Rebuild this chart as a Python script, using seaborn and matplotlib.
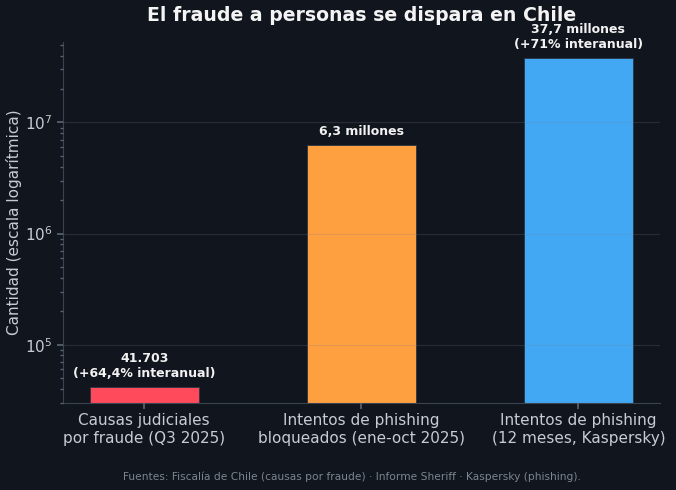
import matplotlib
matplotlib.use("Agg")
import matplotlib.pyplot as plt
import seaborn as sns
import pandas as pd

# datos del grafico
categorias = ["Causas judiciales\npor fraude (Q3 2025)",
              "Intentos de phishing\nbloqueados (ene-oct 2025)",
              "Intentos de phishing\n(12 meses, Kaspersky)"]
valores = [41703, 6300000, 37700000]
etiquetas = ["41.703\n(+64,4% interanual)", "6,3 millones", "37,7 millones\n(+71% interanual)"]
colores = ["#ff4a5c", "#ffa040", "#42a8f4"]

fondo = "#10151e"
texto = "#c8ccd2"

sns.set_theme(style="dark")
plt.rcParams["font.family"] = ["DejaVu Sans"]

df = pd.DataFrame({"categoria": categorias, "valor": valores})

fig = plt.figure(figsize=(6.76, 4.9), dpi=100, facecolor=fondo)
ax = fig.add_axes([0.093, 0.178, 0.883, 0.736])
ax.set_facecolor(fondo)

sns.barplot(data=df, x="categoria", y="valor", hue="categoria", palette=colores,
            legend=False, width=0.5, saturation=1, edgecolor="#2a3444", linewidth=0.6, ax=ax)
ax.set_yscale("log")
ax.set_ylim(3.0e4, max(valores) * 1.4)
ax.set_xlim(-0.375, 2.375)

ax.set_axisbelow(False)
ax.yaxis.grid(True, which="major", color="#7a8290", alpha=0.22, linewidth=0.8)
ax.xaxis.grid(False)

for i, (v, t) in enumerate(zip(valores, etiquetas)):
    ax.annotate(t, (i, v), xytext=(0, 5), textcoords="offset points",
                ha="center", va="bottom", fontsize=9, fontweight="bold", color="#f2f2f2")

for s in ["top", "right"]:
    ax.spines[s].set_visible(False)
for s in ["left", "bottom"]:
    ax.spines[s].set_color("#3a4350")
    ax.spines[s].set_linewidth(0.8)

ax.tick_params(axis="both", which="both", colors="#5a6370", labelcolor=texto, labelsize=11)
ax.tick_params(axis="y", which="major", length=4, left=True)
ax.tick_params(axis="y", which="minor", length=2, left=True)
ax.tick_params(axis="x", length=4, bottom=True)

ax.set_xlabel("")
ax.set_ylabel("Cantidad (escala logarítmica)", fontsize=11, color=texto)
ax.yaxis.set_label_coords(-0.068, 0.5)
ax.set_title("El fraude a personas se dispara en Chile", fontsize=13.6, fontweight="bold",
             color="#f4f4f4", pad=15)

fig.text(0.52, 0.028, "Fuentes: Fiscalía de Chile (causas por fraude) · Informe Sheriff · Kaspersky (phishing).",
         ha="center", va="center", fontsize=7.7, color="#7d8591")

fig.savefig("out.png", dpi=100, facecolor=fondo)
